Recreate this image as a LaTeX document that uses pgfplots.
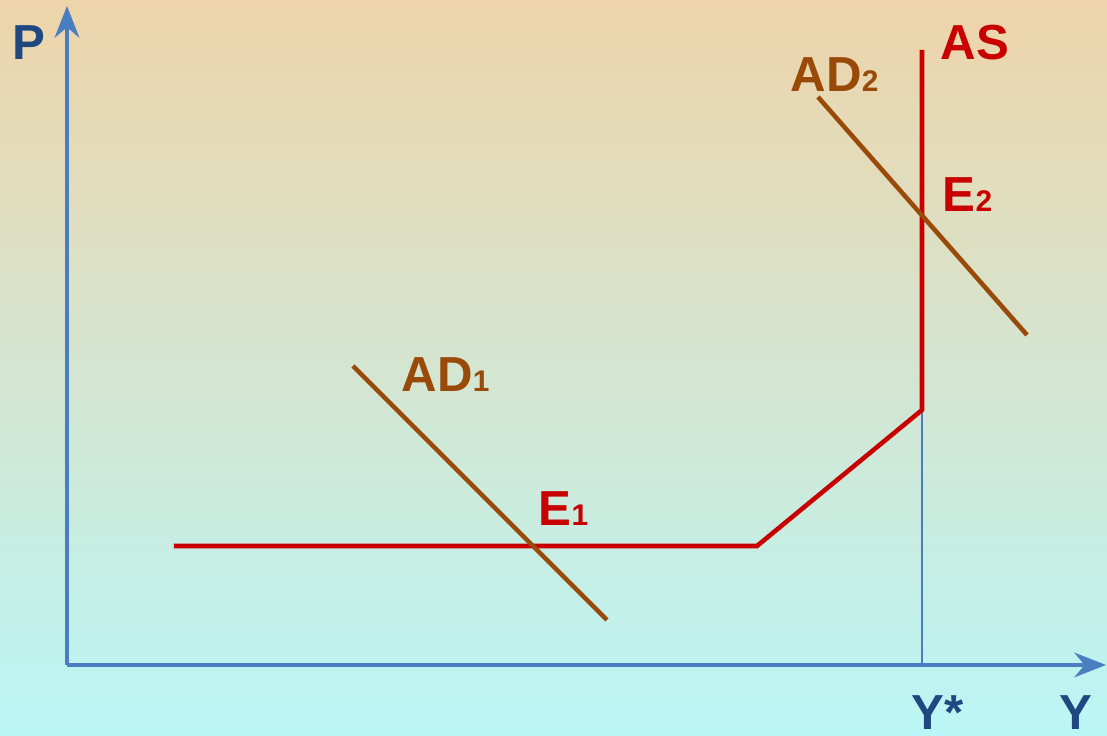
\documentclass[border=0pt]{standalone}
\usepackage{fontspec}
\setmainfont{Liberation Sans}
\usepackage{pgfplots}
\pgfplotsset{compat=1.18}
\usetikzlibrary{arrows.meta}

\definecolor{axblue}{RGB}{74,126,193}
\definecolor{txtblue}{RGB}{31,72,128}
\definecolor{asred}{RGB}{200,0,0}
\definecolor{adbrown}{RGB}{154,74,8}
\definecolor{bgtop}{RGB}{238,212,170}
\definecolor{bgmid}{RGB}{226,236,214}
\definecolor{bgbot}{RGB}{186,246,246}

\newcommand{\lbl}[1]{{\fontsize{14}{16}\selectfont\bfseries #1}}
\newcommand{\sub}[1]{{\fontsize{8.5}{9}\selectfont\bfseries #1}}

\begin{document}
\begin{tikzpicture}
\begin{axis}[
  scale only axis, width=11.07cm, height=7.36cm,
  xmin=0, xmax=1107, ymin=0, ymax=736,
  hide axis, clip=false,
]
% background
\fill[top color=bgtop, middle color=bgmid, bottom color=bgbot]
  (axis cs:0,0) rectangle (axis cs:1107,736);

% axes
\addplot[axblue, line width=1.25pt, -{Stealth[length=9pt,width=7pt]}] coordinates {(67,71) (67,730)};
\addplot[axblue, line width=1.25pt, -{Stealth[length=9pt,width=7pt]}] coordinates {(67,71) (1106,71)};
\addplot[axblue, line width=0.45pt] coordinates {(922,71) (922,326)};

% AS
\addplot[asred, line width=1.3pt] coordinates {(174,190) (757,190) (922,326) (922,686)};
% AD1, AD2
\addplot[adbrown, line width=1.3pt] coordinates {(353,370) (607,116)};
\addplot[adbrown, line width=1.3pt] coordinates {(818,639) (1027,401)};

% labels
\node[anchor=base west, inner sep=0, text=txtblue] at (axis cs:12,676) {\lbl{P}};
\node[anchor=base west, inner sep=0, text=txtblue] at (axis cs:911,6) {\lbl{Y*}};
\node[anchor=base west, inner sep=0, text=txtblue] at (axis cs:1059,6) {\lbl{Y}};
\node[anchor=base west, inner sep=0, text=asred] at (axis cs:940,676) {\lbl{AS}};
\node[anchor=base west, inner sep=0, text=asred] at (axis cs:942,524) {\lbl{E}\sub{2}};
\node[anchor=base west, inner sep=0, text=asred] at (axis cs:538,210) {\lbl{E}\sub{1}};
\node[anchor=base west, inner sep=0, text=adbrown] at (axis cs:790,644) {\lbl{AD}\sub{2}};
\node[anchor=base west, inner sep=0, text=adbrown] at (axis cs:401,344) {\lbl{AD}\sub{1}};
\end{axis}
\pgfresetboundingbox
\path (0,0) rectangle (11.07cm,7.36cm);
\end{tikzpicture}
\end{document}
